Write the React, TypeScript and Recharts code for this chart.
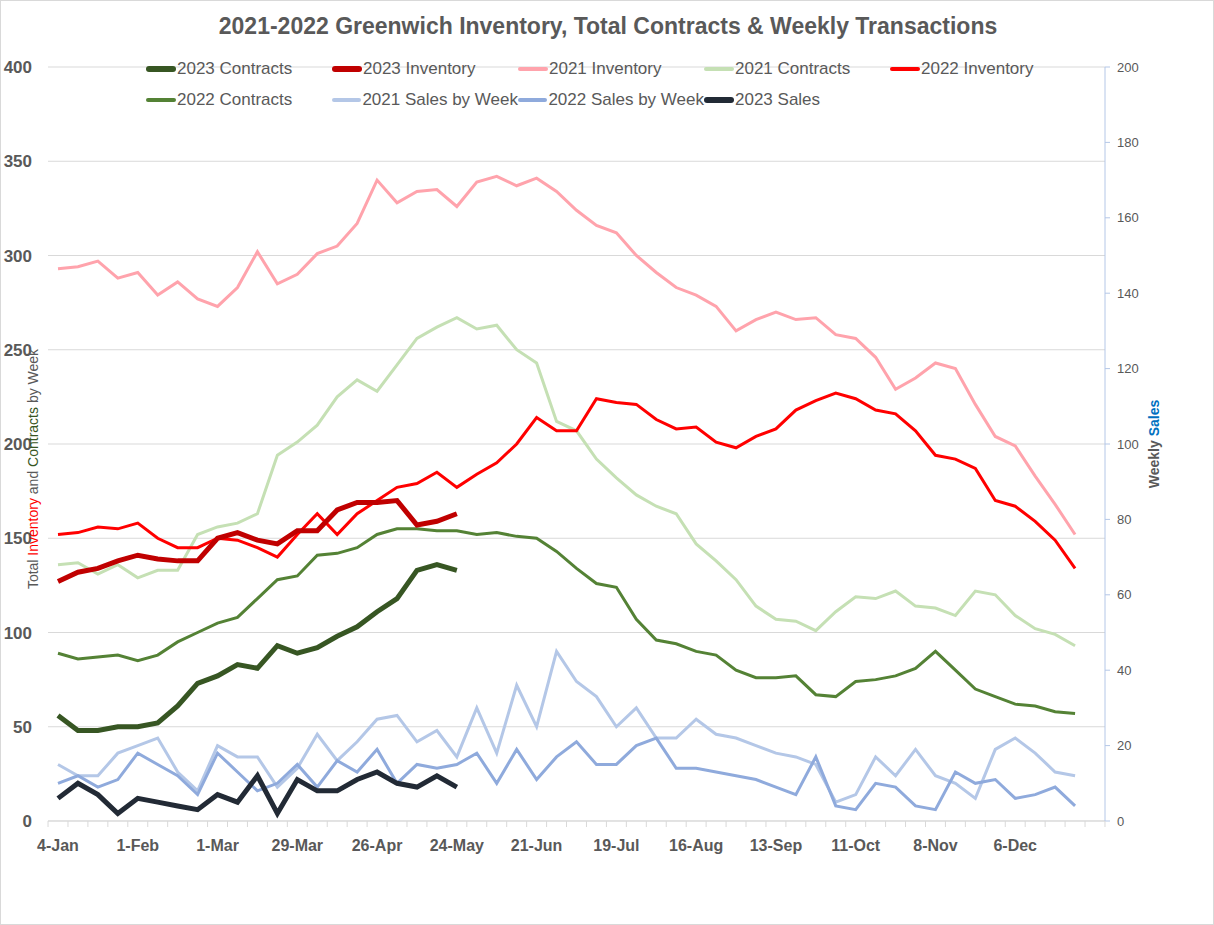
import { LineChart, Line, XAxis, YAxis, CartesianGrid } from 'recharts';

const weeks = [
  '4-Jan', '11-Jan', '18-Jan', '25-Jan', '1-Feb', '8-Feb', '15-Feb', '22-Feb',
  '1-Mar', '8-Mar', '15-Mar', '22-Mar', '29-Mar', '5-Apr', '12-Apr', '19-Apr',
  '26-Apr', '3-May', '10-May', '17-May', '24-May', '31-May', '7-Jun', '14-Jun',
  '21-Jun', '28-Jun', '5-Jul', '12-Jul', '19-Jul', '26-Jul', '2-Aug', '9-Aug',
  '16-Aug', '23-Aug', '30-Aug', '6-Sep', '13-Sep', '20-Sep', '27-Sep', '4-Oct',
  '11-Oct', '18-Oct', '25-Oct', '1-Nov', '8-Nov', '15-Nov', '22-Nov', '29-Nov',
  '6-Dec', '13-Dec', '20-Dec', '27-Dec', '',
];

const inventory2021 = [
  293, 294, 297, 288, 291, 279, 286, 277, 273, 283, 302, 285, 290, 301, 305, 317,
  340, 328, 334, 335, 326, 339, 342, 337, 341, 334, 324, 316, 312, 300, 291, 283,
  279, 273, 260, 266, 270, 266, 267, 258, 256, 246, 229, 235, 243, 240, 221, 204,
  199, 183, 168, 152,
];
const inventory2022 = [
  152, 153, 156, 155, 158, 150, 145, 145, 150, 149, 145, 140, 152, 163, 152, 163,
  170, 177, 179, 185, 177, 184, 190, 200, 214, 207, 207, 224, 222, 221, 213, 208,
  209, 201, 198, 204, 208, 218, 223, 227, 224, 218, 216, 207, 194, 192, 187, 170,
  167, 159, 149, 134,
];
const inventory2023 = [
  127, 132, 134, 138, 141, 139, 138, 138, 150, 153, 149, 147, 154, 154, 165, 169,
  169, 170, 157, 159, 163,
];
const contracts2021 = [
  136, 137, 131, 136, 129, 133, 133, 152, 156, 158, 163, 194, 201, 210, 225, 234,
  228, 242, 256, 262, 267, 261, 263, 250, 243, 212, 207, 192, 182, 173, 167, 163,
  147, 138, 128, 114, 107, 106, 101, 111, 119, 118, 122, 114, 113, 109, 122, 120,
  109, 102, 99, 93,
];
const contracts2022 = [
  89, 86, 87, 88, 85, 88, 95, 100, 105, 108, 118, 128, 130, 141, 142, 145,
  152, 155, 155, 154, 154, 152, 153, 151, 150, 143, 134, 126, 124, 107, 96, 94,
  90, 88, 80, 76, 76, 77, 67, 66, 74, 75, 77, 81, 90, 80, 70, 66,
  62, 61, 58, 57,
];
const contracts2023 = [
  56, 48, 48, 50, 50, 52, 61, 73, 77, 83, 81, 93, 89, 92, 98, 103,
  111, 118, 133, 136, 133,
];
const sales2021 = [
  15, 12, 12, 18, 20, 22, 13, 8, 20, 17, 17, 9, 14, 23, 16, 21,
  27, 28, 21, 24, 17, 30, 18, 36, 25, 45, 37, 33, 25, 30, 22, 22,
  27, 23, 22, 20, 18, 17, 15, 5, 7, 17, 12, 19, 12, 10, 6, 19,
  22, 18, 13, 12,
];
const sales2022 = [
  10, 12, 9, 11, 18, 15, 12, 7, 18, 13, 8, 10, 15, 9, 16, 13,
  19, 10, 15, 14, 15, 18, 10, 19, 11, 17, 21, 15, 15, 20, 22, 14,
  14, 13, 12, 11, 9, 7, 17, 4, 3, 10, 9, 4, 3, 13, 10, 11,
  6, 7, 9, 4,
];
const sales2023 = [
  6, 10, 7, 2, 6, 5, 4, 3, 7, 5, 12, 2, 11, 8, 8, 11,
  13, 10, 9, 12, 9,
];

const leftTicks = [0, 50, 100, 150, 200, 250, 300, 350, 400];
const rightTicks = [0, 20, 40, 60, 80, 100, 120, 140, 160, 180, 200];

const data = weeks.map((week, i) => ({
  week,
  inv21: inventory2021[i],
  inv22: inventory2022[i],
  inv23: inventory2023[i],
  con21: contracts2021[i],
  con22: contracts2022[i],
  con23: contracts2023[i],
  s21: sales2021[i],
  s22: sales2022[i],
  s23: sales2023[i],
}));

const FONT = '"Liberation Sans", Arial, sans-serif';
const GRAY = '#595959';
const GRID = '#D9D9D9';
const AXIS_BLUE = '#B4C7E7';

// legend, in the reference's two rows of five columns
const legendRows = [
  [
    { name: '2023 Contracts', color: '#375623', w: 6 },
    { name: '2023 Inventory', color: '#C00000', w: 6 },
    { name: '2021 Inventory', color: '#FFA3AC', w: 4 },
    { name: '2021 Contracts', color: '#C5E0B4', w: 4 },
    { name: '2022 Inventory', color: '#FF0000', w: 4 },
  ],
  [
    { name: '2022 Contracts', color: '#548235', w: 4 },
    { name: '2021 Sales by Week', color: '#B4C7E7', w: 4 },
    { name: '2022 Sales by Week', color: '#8FAADC', w: 4 },
    { name: '2023 Sales', color: '#222A35', w: 6 },
  ],
];

const PLOT_W = 1057;
const BAND = PLOT_W / weeks.length;

const WeekTick = (props: any) => {
  const { x, y, payload, index } = props;
  const idx = index ?? payload.index;
  const last = idx === weeks.length - 1;
  return (
    <g>
      <line x1={x - BAND / 2} x2={x - BAND / 2} y1={y} y2={y + 6} stroke={GRID} />
      {last && <line x1={x + BAND / 2} x2={x + BAND / 2} y1={y} y2={y + 6} stroke={GRID} />}
      {idx % 4 === 0 && payload.value && (
        <text x={x} y={y + 30} textAnchor="middle" fill={GRAY} fontSize={16} fontWeight="bold" fontFamily={FONT}>
          {payload.value}
        </text>
      )}
    </g>
  );
};

export default function App() {
  return (
    <div
      style={{
        position: 'absolute',
        left: 0,
        top: 0,
        width: 1214,
        height: 925,
        background: '#fff',
        border: '1px solid #D9D9D9',
        boxSizing: 'border-box',
        fontFamily: FONT,
        overflow: 'hidden',
      }}
    >
      <div
        style={{
          position: 'absolute',
          top: 12,
          left: 0,
          width: 1214,
          textAlign: 'center',
          fontSize: 23,
          fontWeight: 'bold',
          color: GRAY,
        }}
      >
        2021-2022 Greenwich Inventory, Total Contracts &amp; Weekly Transactions
      </div>

      <LineChart
        width={1214}
        height={925}
        data={data}
        margin={{ top: 67, right: 59, bottom: 64, left: 0 }}
        style={{ position: 'absolute', left: -1, top: -1 }}
      >
        <CartesianGrid yAxisId="left" vertical={false} stroke={GRID} />
        <XAxis
          dataKey="week"
          interval={0}
          height={40}
          padding={{ left: 10, right: 10 }}
          tickLine={false}
          tickSize={0}
          tickMargin={0}
          axisLine={{ stroke: GRID }}
          tick={<WeekTick />}
        />
        <YAxis
          yAxisId="left"
          orientation="left"
          width={48}
          domain={[0, 400]}
          ticks={leftTicks}
          axisLine={false}
          tickLine={false}
          tickSize={0}
          tickMargin={16}
          tick={{ fontSize: 17, fontWeight: 'bold', fill: GRAY, fontFamily: FONT }}
        />
        <YAxis
          yAxisId="right"
          orientation="right"
          width={50}
          domain={[0, 200]}
          ticks={rightTicks}
          axisLine={{ stroke: AXIS_BLUE }}
          tickLine={{ stroke: AXIS_BLUE }}
          tickSize={5}
          tickMargin={7}
          tick={{ fontSize: 13, fill: GRAY, fontFamily: FONT, textAnchor: 'start' }}
        />

        <Line yAxisId="left" dataKey="inv21" stroke="#FFA3AC" strokeWidth={3} dot={false} activeDot={false} isAnimationActive={false} />
        <Line yAxisId="left" dataKey="con21" stroke="#C5E0B4" strokeWidth={3} dot={false} activeDot={false} isAnimationActive={false} />
        <Line yAxisId="left" dataKey="inv22" stroke="#FF0000" strokeWidth={3} dot={false} activeDot={false} isAnimationActive={false} />
        <Line yAxisId="left" dataKey="con22" stroke="#548235" strokeWidth={3} dot={false} activeDot={false} isAnimationActive={false} />
        <Line yAxisId="left" dataKey="inv23" stroke="#C00000" strokeWidth={5} dot={false} activeDot={false} isAnimationActive={false} />
        <Line yAxisId="left" dataKey="con23" stroke="#375623" strokeWidth={5} dot={false} activeDot={false} isAnimationActive={false} />
        <Line yAxisId="right" dataKey="s21" stroke="#B4C7E7" strokeWidth={3} dot={false} activeDot={false} isAnimationActive={false} />
        <Line yAxisId="right" dataKey="s22" stroke="#8FAADC" strokeWidth={3} dot={false} activeDot={false} isAnimationActive={false} />
        <Line yAxisId="right" dataKey="s23" stroke="#222A35" strokeWidth={5} dot={false} activeDot={false} isAnimationActive={false} />
      </LineChart>

      {legendRows.map((row, r) => (
        <div key={r} style={{ position: 'absolute', top: 57 + r * 31, left: 145, display: 'flex' }}>
          {row.map((item) => (
            <div key={item.name} style={{ width: 186, display: 'flex', alignItems: 'center', height: 22 }}>
              <div
                style={{
                  width: 30,
                  height: item.w,
                  borderRadius: item.w / 2,
                  background: item.color,
                  marginRight: 1,
                }}
              />
              <span style={{ fontSize: 17, color: GRAY, whiteSpace: 'nowrap' }}>{item.name}</span>
            </div>
          ))}
        </div>
      ))}

      <div
        style={{
          position: 'absolute',
          left: 32,
          top: 468,
          transform: 'translate(-50%, -50%) rotate(-90deg)',
          whiteSpace: 'nowrap',
          fontSize: 14,
          color: GRAY,
        }}
      >
        Total <span style={{ color: '#FF0000' }}>Inventory</span> and{' '}
        <span style={{ color: '#375623' }}>Contracts</span> by Week
      </div>
      <div
        style={{
          position: 'absolute',
          left: 1153,
          top: 443,
          transform: 'translate(-50%, -50%) rotate(-90deg)',
          whiteSpace: 'nowrap',
          fontSize: 14,
          fontWeight: 'bold',
          color: GRAY,
        }}
      >
        Weekly <span style={{ color: '#0070C0' }}>Sales</span>
      </div>
    </div>
  );
}
